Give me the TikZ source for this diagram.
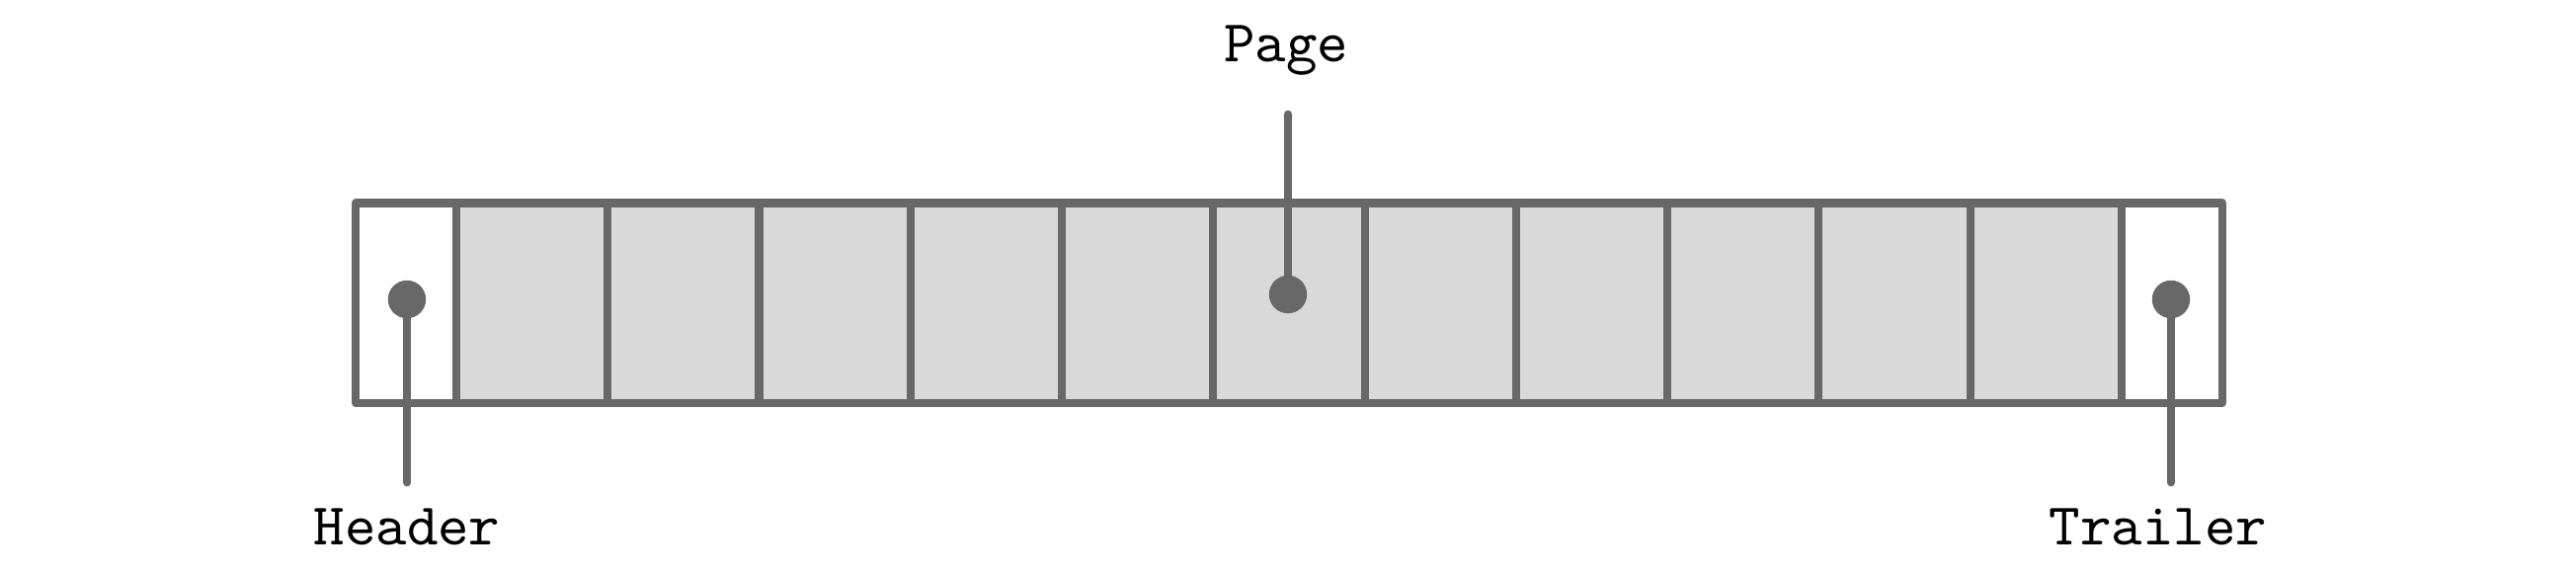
\documentclass[tikz,border=0pt]{standalone}
\usetikzlibrary{positioning}
\definecolor{linegray}{RGB}{104,104,104}
\definecolor{cellgray}{RGB}{217,217,217}
\begin{document}
\begin{tikzpicture}[x=0.16667pt,y=-0.16667pt,
  cellbox/.style={draw=linegray,line width=1.35pt,line join=round,rectangle,inner sep=0pt,outer sep=0pt,minimum height=33.75pt},
  graycell/.style={cellbox,fill=cellgray,minimum width=25.545pt},
  endcell/.style={cellbox,fill=white,minimum width=17pt},
  dotnode/.style={circle,fill=linegray,inner sep=0pt,minimum size=6.4pt},
  conn/.style={draw=linegray,line width=1.3pt,line cap=round},
  lbl/.style={font=\ttfamily,anchor=base,inner sep=0pt}]
\useasboundingbox (0,0) rectangle (2608,582);
\node[endcell] (hdr) at (411.25,306.75) {};
\foreach \i in {1,...,11}{
  \node[graycell] (c\i) at ({462+153.27*(\i-0.5)},306.75) {};
}
\node[endcell] (trl) at (2199,306.75) {};
% dots
\node[dotnode] (hdot) at (412,303) {};
\node[dotnode] (pdot) at (1304,298) {};
\node[dotnode] (tdot) at (2198,303) {};
% labels
\node[lbl] (hlab) at (412,552) {Header};
\node[lbl] (plab) at (1302,63) {Page};
\node[lbl] (tlab) at (2185,552) {Trailer};
% connector ends
\coordinate (hend) at (412,488.5);
\coordinate (pend) at (1304,115.5);
\coordinate (tend) at (2198,488.5);
\draw[conn] (hdot.center) -- (hend);
\draw[conn] (pdot.center) -- (pend);
\draw[conn] (tdot.center) -- (tend);
\end{tikzpicture}
\end{document}
